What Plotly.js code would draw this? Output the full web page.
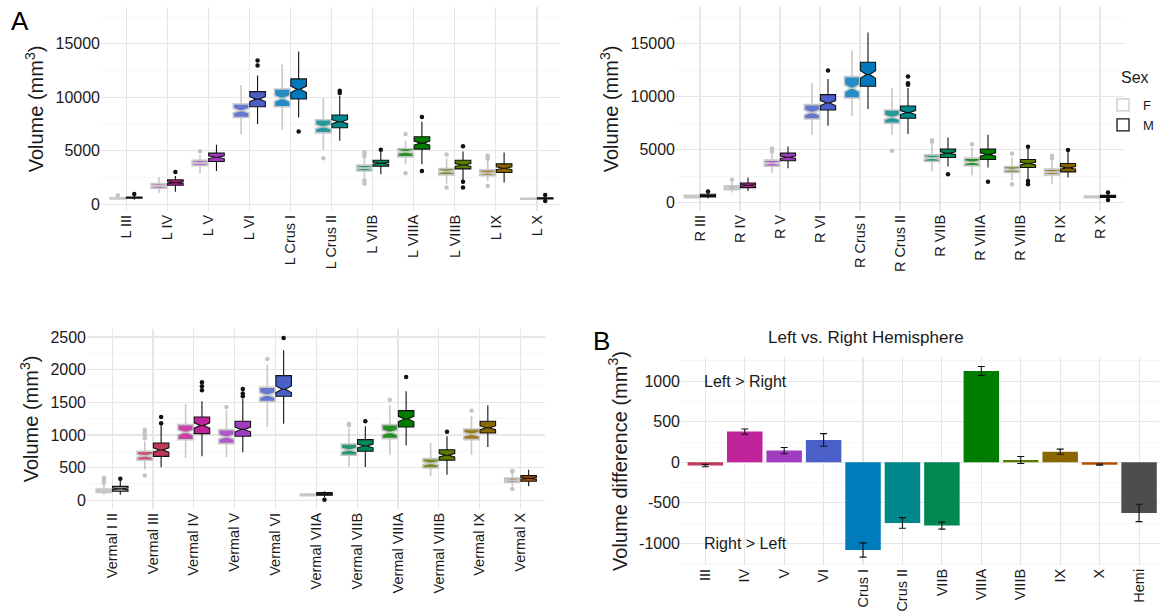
<!DOCTYPE html>
<html><head><meta charset="utf-8">
<script src="https://cdn.plot.ly/plotly-3.0.1.min.js"></script>
<style>html,body{margin:0;padding:0;background:#fff}#chart{width:1159px;height:615px}</style>
</head><body><div id="chart"></div>
<script>
// ---------- Data ----------
const leftCats = ["L III","L IV","L V","L VI","L Crus I","L Crus II","L VIIB","L VIIIA","L VIIIB","L IX","L X"];
const rightCats = ["R III","R IV","R V","R VI","R Crus I","R Crus II","R VIIB","R VIIIA","R VIIIB","R IX","R X"];
const vermCats = ["Vermal I II","Vermal III","Vermal IV","Vermal V","Vermal VI","Vermal VIIA","Vermal VIIB","Vermal VIIIA","Vermal VIIIB","Vermal IX","Vermal X"];
const diffCats = ["III","IV","V","VI","Crus I","Crus II","VIIB","VIIIA","VIIIB","IX","X","Hemi"];

const hemiColors = ["#9a9a9a","#c0229a","#a03cc0","#4a5fc8","#0078bb","#00878c","#00875a","#007d00","#5a7a00","#8a6600","#444444"];
const vermColors = ["#9a9a9a","#c0395a","#c0229a","#a03cc0","#4a5fc8","#2a4a50","#00875a","#007d00","#5a7a00","#8a6600","#b05300"];
const diffColors = ["#c0395a","#c0229a","#a03cc0","#4a5fc8","#007bbb","#00878c","#008752","#007d00","#5a7a00","#8a6600","#b05300","#4d4d4d"];

// Left hemisphere, female / male box statistics
const leftF_q1  = [500,1500,3620,8120,9120,6680,3120,4430,2750,2680,470];
const leftF_med = [560,1720,3870,8750,9900,7250,3380,4900,3060,2930,520];
const leftF_q3  = [620,1930,4120,9380,10780,7900,3660,5210,3340,3220,570];
const leftF_lo  = [380,1090,2870,6560,6970,5060,2500,3750,1930,2190,400];
const leftF_hi  = [760,2560,4620,11150,13060,9940,4370,5930,4280,4190,650];
const leftM_q1  = [560,1780,4000,9120,9840,7150,3560,5160,3310,2970,500];
const leftM_med = [620,2030,4400,9830,10750,7720,3840,5720,3680,3370,560];
const leftM_q3  = [690,2280,4780,10530,11720,8340,4120,6310,4120,3780,620];
const leftM_lo  = [420,1180,3120,7500,8120,5930,2810,3750,2180,2030,330];
const leftM_hi  = [870,2650,5560,12030,14280,10150,4900,7720,4930,4840,780];
const leftF_outCat = ["L III","L V","L Crus II","L VIIB","L VIIB","L VIIB","L VIIB","L VIIB","L VIIIA","L VIIIA","L VIIIB","L VIIIB","L IX","L IX","L IX","L IX"];
const leftF_outVal = [850,4970,4310,4500,4700,4900,2250,1950,6560,2900,4650,1560,4250,4400,4560,1720];
const leftM_outCat = ["L III","L IV","L VI","L VI","L Crus I","L Crus II","L Crus II","L VIIB","L VIIIA","L VIIIA","L VIIIB","L VIIIB","L VIIIB","L X","L X"];
const leftM_outVal = [960,3030,12970,13430,6810,10400,10620,5100,8160,3120,5430,2120,1560,860,300];

// Right hemisphere
const rightF_q1  = [470,1230,3440,7890,9880,7480,3880,3470,2840,2620,470];
const rightF_med = [580,1400,3720,8520,10800,8050,4200,3810,3120,2880,550];
const rightF_q3  = [690,1580,4010,9250,11900,8740,4510,4200,3410,3160,630];
const rightF_lo  = [400,950,2810,6410,8210,6410,2940,2590,2120,1740,420];
const rightF_hi  = [750,1960,4740,11270,14360,10830,5580,5210,4260,4010,700];
const rightM_q1  = [540,1420,3950,8740,10990,7960,4260,4070,3310,2900,480];
const rightM_med = [660,1640,4290,9400,12100,8500,4670,4540,3690,3280,590];
const rightM_q3  = [790,1860,4670,10200,13260,9120,5050,5050,4070,3690,690];
const rightM_lo  = [400,1100,3250,7260,8840,6470,3410,3310,2210,2370,350];
const rightM_hi  = [950,2370,5300,11680,16070,10830,6160,6410,5100,4800,800];
const rightF_outCat = ["R IV","R V","R V","R Crus II","R VIIB","R VIIB","R VIIIA","R VIIIB","R VIIIB","R IX","R IX"];
const rightF_outVal = [2150,5110,4830,4890,5900,5750,5520,4640,1740,4420,4200];
const rightM_outCat = ["R III","R VI","R Crus II","R Crus II","R Crus II","R VIIB","R VIIIA","R VIIIB","R VIIIB","R VIIIB","R IX","R X","R X"];
const rightM_outVal = [1040,12470,11900,11270,11140,2680,1960,5270,2050,1740,4960,950,250];

// Vermis
const vermF_q1  = [122,612,928,867,1510,70,689,944,495,929,276];
const vermF_med = [148,680,1040,970,1610,82,770,1040,565,1010,308];
const vermF_q3  = [173,750,1158,1082,1730,95,862,1158,638,1092,342];
const vermF_lo  = [80,470,648,663,1122,55,510,699,367,699,214];
const vermF_hi  = [240,900,1475,1380,2077,110,1100,1464,878,1296,418];
const vermM_q1  = [138,673,1020,980,1592,77,750,1122,612,1031,291];
const vermM_med = [176,770,1145,1085,1700,95,832,1245,690,1110,335];
const vermM_q3  = [214,878,1275,1209,1908,117,929,1372,775,1209,378];
const vermM_lo  = [87,505,673,735,1173,45,510,837,393,816,214];
const vermM_hi  = [300,1160,1515,1551,2296,140,1133,1668,980,1454,469];
const vermF_outCat = ["Vermal I II","Vermal I II","Vermal I II","Vermal I II","Vermal III","Vermal III","Vermal III","Vermal III","Vermal III","Vermal V","Vermal VI","Vermal VIIB","Vermal VIIB","Vermal VIIIA","Vermal IX","Vermal X","Vermal X","Vermal X"];
const vermF_outVal = [270,300,330,345,950,1000,1040,1080,380,1430,2163,1150,1170,1541,1372,454,440,173];
const vermM_outCat = ["Vermal I II","Vermal III","Vermal III","Vermal IV","Vermal IV","Vermal IV","Vermal V","Vermal V","Vermal V","Vermal VI","Vermal VIIA","Vermal VIIB","Vermal VIIIA","Vermal VIIIB"];
const vermM_outVal = [330,1180,1275,1684,1745,1806,1592,1633,1704,2485,10,1209,1888,1051];

// Left minus right differences with error
const diffVal = [-40,378,144,275,-1080,-747,-780,1125,29,131,-29,-624];
const diffErr = [15,33,39,78,88,66,43,55,43,31,8,107];

// ---------- Style ----------
const FONT = "Liberation Sans, Arial, Helvetica, sans-serif";
const NOTCH_FRAC = 0.16;
const F_LINE = "#c8c8c8", M_LINE = "#111111";
const GRID = "#e6e6e6", MINOR = "#f2f2f2";

function hexA(hex, a){const n=parseInt(hex.slice(1),16);return `rgba(${n>>16},${(n>>8)&255},${n&255},${a})`;}

const traces = [];
function addBoxes(cats, colors, S, xa, ya, off, lineColor, lw, alpha){
  cats.forEach((c,i)=>{
    traces.push({type:'box', xaxis:xa, yaxis:ya, x:[i+off],
      q1:[S.q1[i]], median:[S.med[i]], q3:[S.q3[i]], lowerfence:[S.lo[i]], upperfence:[S.hi[i]],
      notched:true, notchspan:[NOTCH_FRAC*(S.q3[i]-S.q1[i])], notchwidth:0.4,
      width:0.38, whiskerwidth:0, boxpoints:false,
      fillcolor:hexA(colors[i],alpha), line:{color:lineColor,width:lw},
      showlegend:false, hoverinfo:'skip'});
  });
}
function addOut(cats, oc, ov, xa, ya, off, color){
  traces.push({type:'scatter', mode:'markers', xaxis:xa, yaxis:ya,
    x: oc.map(c=>cats.indexOf(c)+off), y: ov,
    marker:{color:color,size:4.5}, showlegend:false, hoverinfo:'skip'});
}
function panel(cats, colors, F, M, oF, oM, xa, ya){
  addBoxes(cats, colors, F, xa, ya, -0.2, F_LINE, 1.6, 0.85);
  addBoxes(cats, colors, M, xa, ya, 0.2, M_LINE, 1.1, 1);
  addOut(cats, oF[0], oF[1], xa, ya, -0.2, "#c4c4c4");
  addOut(cats, oM[0], oM[1], xa, ya, 0.2, "#111");
}
panel(leftCats, hemiColors,
  {q1:leftF_q1,med:leftF_med,q3:leftF_q3,lo:leftF_lo,hi:leftF_hi},
  {q1:leftM_q1,med:leftM_med,q3:leftM_q3,lo:leftM_lo,hi:leftM_hi},
  [leftF_outCat,leftF_outVal],[leftM_outCat,leftM_outVal],'x','y');
panel(rightCats, hemiColors,
  {q1:rightF_q1,med:rightF_med,q3:rightF_q3,lo:rightF_lo,hi:rightF_hi},
  {q1:rightM_q1,med:rightM_med,q3:rightM_q3,lo:rightM_lo,hi:rightM_hi},
  [rightF_outCat,rightF_outVal],[rightM_outCat,rightM_outVal],'x2','y2');
panel(vermCats, vermColors,
  {q1:vermF_q1,med:vermF_med,q3:vermF_q3,lo:vermF_lo,hi:vermF_hi},
  {q1:vermM_q1,med:vermM_med,q3:vermM_q3,lo:vermM_lo,hi:vermM_hi},
  [vermF_outCat,vermF_outVal],[vermM_outCat,vermM_outVal],'x3','y3');

// legend dummies (off-range)
[["F",F_LINE],["M",M_LINE]].forEach(([n,c])=>{
  traces.push({type:'box', xaxis:'x2', yaxis:'y2', x:[-50], q1:[1], median:[2], q3:[3], lowerfence:[0], upperfence:[4],
    name:n, fillcolor:'#ffffff', line:{color:c,width:1.3}, showlegend:true, hoverinfo:'skip'});
});

traces.push({type:'bar', xaxis:'x4', yaxis:'y4', x:diffCats.map((c,i)=>i), y:diffVal, width:0.9,
  marker:{color:diffColors, line:{width:0}},
  error_y:{type:'data', array:diffErr, visible:true, color:'#111', thickness:1.1, width:3.5},
  showlegend:false, hoverinfo:'skip'});

// ---------- Layout ----------
const px = v => v/1159, py = v => 1 - v/615;
const tickFont = {family:FONT, size:16, color:'#1a1a1a'};
const catFont = {family:FONT, size:14.5, color:'#1a1a1a'};
const titleFont = {family:FONT, size:20, color:'#1a1a1a'};
function xAx(dom, range, cats, anchor){
  return {domain:dom, range:range, anchor:anchor, tickmode:'array', tickvals:cats.map((c,i)=>i), ticktext:cats,
    tickangle:-90, tickfont:catFont, showgrid:true, gridcolor:GRID, gridwidth:1.1, zeroline:false, showline:false, ticks:'', fixedrange:true};
}
function yAx(dom, range, tv, minor, anchor, title){
  return {domain:dom, range:range, anchor:anchor, tickmode:'array', tickvals:tv, ticktext:tv.map(String), tickfont:tickFont,
    showgrid:true, gridcolor:GRID, gridwidth:1.1, zeroline:false, showline:false, ticks:'',
    minor:{tickmode:'array', tickvals:minor, showgrid:true, gridcolor:MINOR, gridwidth:0.7, ticks:''},
    title:{text:title, font:titleFont, standoff:6}, fixedrange:true};
}
const vol = "Volume (mm<sup>3</sup>)";
const layout = {
  width:1159, height:615, margin:{l:0,r:0,t:0,b:0}, paper_bgcolor:'#fff', plot_bgcolor:'#fff',
  font:{family:FONT, color:'#1a1a1a'}, boxmode:'overlay', bargap:0.1, hovermode:false,
  xaxis: xAx([px(101),px(560)], [-0.61,10.56], leftCats, 'y'),
  yaxis: yAx([py(211),py(7)], [-625,18440], [0,5000,10000,15000], [2500,7500,12500,17500], 'x', vol),
  xaxis2: xAx([px(676),px(1124)], [-0.6,10.6], rightCats, 'y2'),
  yaxis2: yAx([py(211),py(7)], [-790,18470], [0,5000,10000,15000], [2500,7500,12500,17500], 'x2', vol),
  xaxis3: xAx([px(87),px(545)], [-0.615,10.6], vermCats, 'y3'),
  yaxis3: yAx([py(509),py(329)], [-133,2622], [0,500,1000,1500,2000,2500], [250,750,1250,1750,2250], 'x3', vol),
  xaxis4: xAx([px(681),1], [-0.617,11.506], diffCats, 'y4'),
  yaxis4: yAx([py(565),py(357)], [-1265,1297], [-1000,-500,0,500,1000], [-1250,-750,-250,250,750,1250], 'x4', "Volume difference (mm<sup>3</sup>)"),
  legend:{x:px(1103), y:py(90), xanchor:'left', yanchor:'top', font:{family:FONT,size:13,color:'#1a1a1a'},
    bgcolor:'rgba(0,0,0,0)', tracegroupgap:0, itemwidth:30},
  annotations:[
    {text:'Sex', x:px(1119), y:py(88), xref:'paper', yref:'paper', xanchor:'left', yanchor:'bottom', showarrow:false, font:{family:FONT,size:16,color:'#1a1a1a'}},
    {text:'A', x:px(9), y:py(4), xref:'paper', yref:'paper', xanchor:'left', yanchor:'top', showarrow:false, font:{family:FONT,size:26,color:'#000'}},
    {text:'B', x:px(591), y:py(324), xref:'paper', yref:'paper', xanchor:'left', yanchor:'top', showarrow:false, font:{family:FONT,size:26,color:'#000'}},
    {text:'Left vs. Right Hemisphere', x:px(866), y:py(337), xref:'paper', yref:'paper', xanchor:'center', yanchor:'middle', showarrow:false, font:{family:FONT,size:17,color:'#1a1a1a'}},
    {text:'Left > Right', x:-0.08, y:1000, xref:'x4', yref:'y4', xanchor:'left', yanchor:'middle', showarrow:false, font:{family:FONT,size:16,color:'#1a1a1a'}},
    {text:'Right > Left', x:-0.08, y:-1000, xref:'x4', yref:'y4', xanchor:'left', yanchor:'middle', showarrow:false, font:{family:FONT,size:16,color:'#1a1a1a'}}
  ]
};
Plotly.newPlot('chart', traces, layout, {staticPlot:true, displayModeBar:false});
</script></body></html>
